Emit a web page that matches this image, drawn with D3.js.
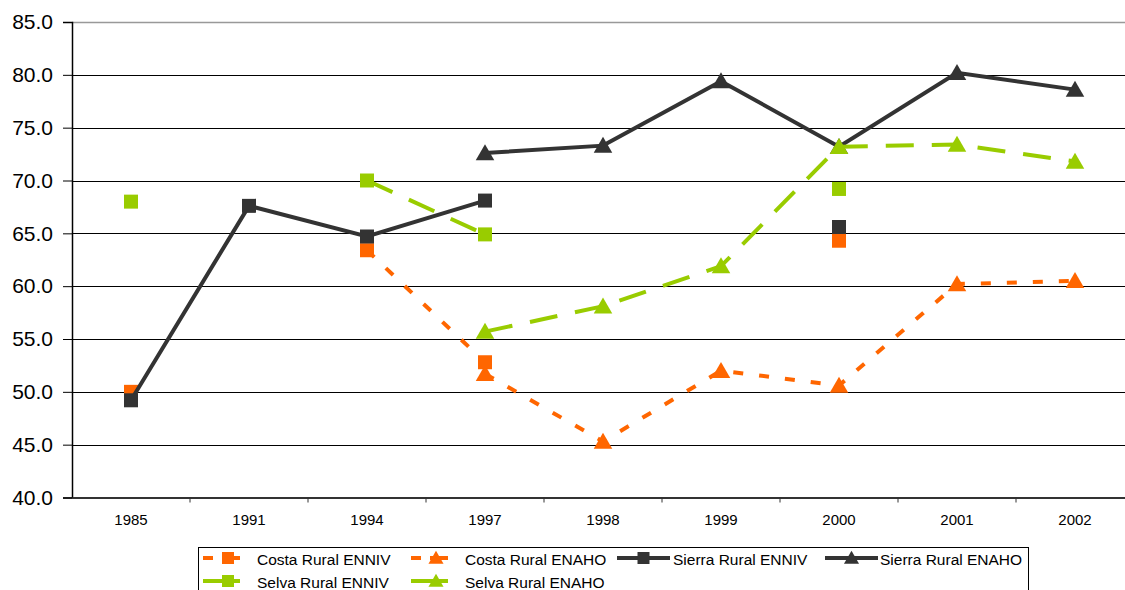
<!DOCTYPE html>
<html><head><meta charset="utf-8">
<script src="https://cdn.jsdelivr.net/npm/d3@7"></script>
<style>
html,body{margin:0;padding:0;background:#fff;}
svg{display:block;font-family:"Liberation Sans",Arial,sans-serif;}
</style></head>
<body>
<svg id="chart" width="1125" height="590"></svg>
<script>
const categories = ["1985","1991","1994","1997","1998","1999","2000","2001","2002"];
const yTicks = [40,45,50,55,60,65,70,75,80,85];

const costaENNIV  = [50.0, null, 63.4, 52.8, null, null, 64.3, null, null];
const costaENAHO  = [null, null, null, 51.7, 45.3, 52.0, 50.6, 60.2, 60.5];
const sierraENNIV = [49.2, 67.6, 64.7, 68.1, null, null, 65.6, null, null];
const sierraENAHO = [null, null, null, 72.6, 73.3, 79.4, 73.2, 80.2, 78.6];
const selvaENNIV  = [68.0, null, 70.0, 64.9, null, null, 69.2, null, null];
const selvaENAHO  = [null, null, null, 55.7, 58.1, 61.9, 73.2, 73.4, 71.8];

const seriesNames = ["Costa Rural ENNIV","Costa Rural ENAHO","Sierra Rural ENNIV","Sierra Rural ENAHO","Selva Rural ENNIV","Selva Rural ENAHO"];

(function(){
const ORANGE = "#FF6600", GREEN = "#99CC00", DARK = "#333333";
const series = [
  {name: seriesNames[0], values: costaENNIV,  color: ORANGE, dash: "10,16", marker: "square"},
  {name: seriesNames[1], values: costaENAHO,  color: ORANGE, dash: "10,16", marker: "triangle"},
  {name: seriesNames[2], values: sierraENNIV, color: DARK,   dash: null,    marker: "square"},
  {name: seriesNames[3], values: sierraENAHO, color: DARK,   dash: null,    marker: "triangle"},
  {name: seriesNames[4], values: selvaENNIV,  color: GREEN,  dash: "28,18", marker: "square"},
  {name: seriesNames[5], values: selvaENAHO,  color: GREEN,  dash: "28,18", marker: "triangle"}
];

const svg = d3.select("#chart");
const pL = 72, pR = 1134, pT = 22, pB = 497.5;

const x = d3.scaleBand().domain(categories).range([pL, pR]).padding(0);
const y = d3.scaleLinear().domain([40, 85]).range([pB, pT]);
const cx = c => x(c) + x.bandwidth() / 2;

// gridlines
svg.append("g").selectAll("line").data(yTicks.filter(t => t > 40)).join("line")
  .attr("x1", pL).attr("x2", 1125)
  .attr("y1", d => Math.round(y(d)) + 0.5).attr("y2", d => Math.round(y(d)) + 0.5)
  .attr("stroke", d => d === 85 ? "#999" : "#000").attr("stroke-width", d => d === 85 ? 1.5 : 1);

// y axis
const yAxis = svg.append("g").attr("transform", `translate(${pL},0)`)
  .call(d3.axisLeft(y).tickValues(yTicks).tickFormat(d3.format(".1f")).tickSize(9).tickPadding(10));
yAxis.select(".domain").attr("stroke", "#000").attr("stroke-width", 1.5);
yAxis.selectAll(".tick line").attr("stroke", "#000");
yAxis.selectAll("text").attr("font-size", 21).attr("fill", "#000").attr("font-family", "Liberation Sans, Arial, sans-serif");

// x axis
const xAxis = svg.append("g").attr("transform", `translate(0,${pB})`)
  .call(d3.axisBottom(x).tickSize(0).tickPadding(17));
xAxis.select(".domain").attr("stroke", "#333").attr("stroke-width", 2);
xAxis.selectAll("text").attr("font-size", 15).attr("fill", "#000").attr("font-family", "Liberation Sans, Arial, sans-serif");
svg.append("g").selectAll("line").data(categories.slice(1)).join("line")
  .attr("x1", d => x(d)).attr("x2", d => x(d))
  .attr("y1", pB).attr("y2", pB + 5).attr("stroke", "#333").attr("stroke-width", 1);

const sqPath = s => `M${-s/2},${-s/2}h${s}v${s}h${-s}Z`;
const triPath = s => `M0,${-s*0.55}L${s*0.58},${s*0.45}L${-s*0.58},${s*0.45}Z`;

const line = d3.line().defined(d => d.v != null).x(d => cx(d.c)).y(d => y(d.v));

series.forEach(s => {
  const pts = categories.map((c, i) => ({c, v: s.values[i]}));
  const g = svg.append("g");
  g.append("path").datum(pts).attr("d", line).attr("fill", "none")
    .attr("stroke", s.color).attr("stroke-width", 4)
    .attr("stroke-dasharray", s.dash);
  g.selectAll("path.m").data(pts.filter(d => d.v != null)).join("path").attr("class", "m")
    .attr("transform", d => `translate(${cx(d.c)},${y(d.v)})`)
    .attr("d", s.marker === "square" ? sqPath(14) : triPath(16))
    .attr("fill", s.color);
});

// legend
const lg = svg.append("g");
lg.append("rect").attr("x", 198.5).attr("y", 547.5).attr("width", 830).attr("height", 60)
  .attr("fill", "#fff").attr("stroke", "#000").attr("stroke-width", 1);
const legendPos = [
  {x1: 203, x2: 240, tx: 257, y: 558},
  {x1: 411, x2: 448, tx: 465, y: 558},
  {x1: 617, x2: 670, tx: 673, y: 558},
  {x1: 825, x2: 878, tx: 880, y: 558},
  {x1: 203, x2: 240, tx: 257, y: 581},
  {x1: 411, x2: 448, tx: 465, y: 581}
];
series.forEach((s, i) => {
  const p = legendPos[i];
  lg.append("line").attr("x1", p.x1).attr("x2", p.x2).attr("y1", p.y).attr("y2", p.y)
    .attr("stroke", s.color).attr("stroke-width", 4)
    .attr("stroke-dasharray", s.dash ? (s.color === ORANGE ? "10,9,40" : null) : null);
  const mx = s.color === DARK ? (p.x1 + p.x2) / 2 : p.x1 + 25;
  lg.append("path").attr("transform", `translate(${mx},${p.y})`)
    .attr("d", s.marker === "square" ? sqPath(12) : triPath(13)).attr("fill", s.color);
  lg.append("text").attr("x", p.tx).attr("y", p.y + 6.5).attr("font-size", 15.5).attr("fill", "#000")
    .text(s.name);
});
})();
</script>
</body></html>
